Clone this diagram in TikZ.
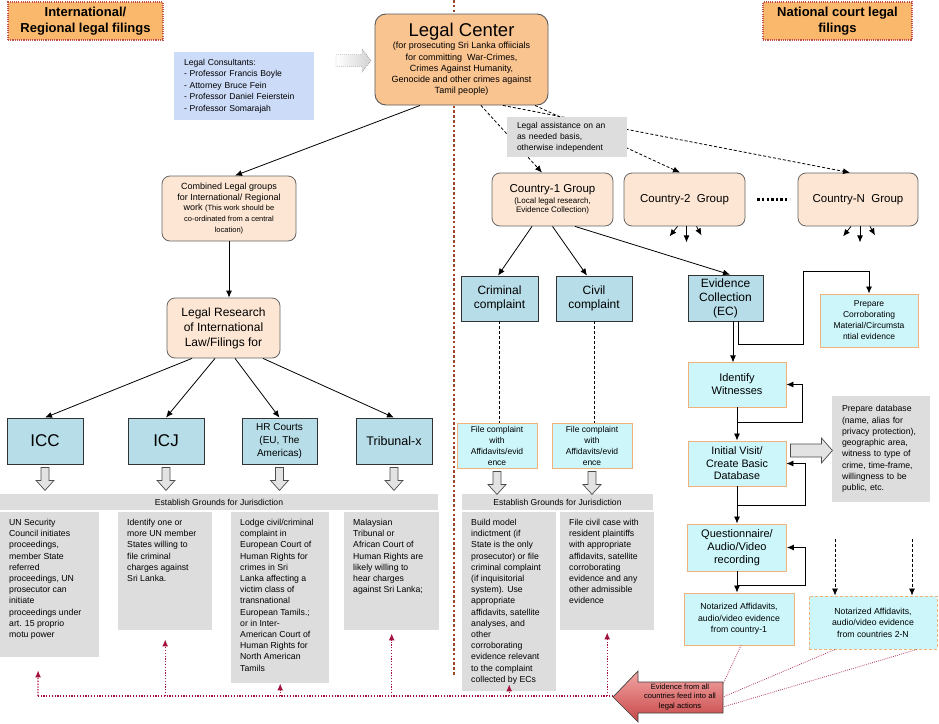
\documentclass[tikz,border=0pt]{standalone}
\usepackage{fontspec}
\setmainfont{Liberation Sans}
\usetikzlibrary{arrows.meta}

\definecolor{hdrorange}{HTML}{FAB86C}
\definecolor{hdrred}{HTML}{C0504D}
\definecolor{centerfill}{HTML}{FAC491}
\definecolor{peach}{HTML}{FDE6D3}
\definecolor{tealfill}{HTML}{B7DDE8}
\definecolor{cyanfill}{HTML}{CCF6FA}
\definecolor{orangeline}{HTML}{F0B27A}
\definecolor{grayfill}{HTML}{DDDDDD}
\definecolor{bluefill}{HTML}{CCDBF8}
\definecolor{dividerred}{HTML}{9E4526}
\definecolor{feedred}{HTML}{A3123C}
\definecolor{feedtop}{HTML}{F4A6A6}
\definecolor{feedbot}{HTML}{C64646}

\newcommand\fsz[2]{\fontsize{#1}{#2}\selectfont}
\newcommand\gtxt[3]{\parbox[c][#2pt][t]{#1pt}{\raggedright #3}}

\tikzset{
  sz/.style 2 args={minimum width=#1pt,minimum height=#2pt},
  header/.style={fill=hdrorange,draw=hdrred,line width=1.1pt,dash pattern=on 1.1pt off 1.1pt,
    minimum width=#1,minimum height=38pt,align=center,font=\bfseries\fsz{13}{16}},
  centerbox/.style={fill=centerfill,draw=black!65,line width=0.9pt,rounded corners=11pt,align=center,inner sep=1pt},
  groupbox/.style={fill=peach,draw=black!60,line width=0.8pt,rounded corners=8pt,align=center,inner sep=1pt},
  courtbox/.style={fill=tealfill,draw=black!80,line width=0.8pt,align=center,inner sep=1pt},
  stepbox/.style={fill=cyanfill,draw=orangeline,line width=0.9pt,align=center,inner sep=1pt},
  notebox/.style={fill=grayfill,align=left,inner xsep=10pt},
  bar/.style={fill=grayfill,inner sep=0pt,font=\fsz{8.6}{10}},
  grounds/.style={fill=grayfill,anchor=north west,inner xsep=9pt,inner ysep=7pt,font=\fsz{8.7}{11.2}},
  link/.style={->,line width=0.8pt},
  dashlink/.style={->,line width=0.8pt,dash pattern=on 3pt off 2pt},
  dashline/.style={line width=0.6pt,dash pattern=on 3pt off 2pt},
  feed/.style={feedred,line width=1.3pt,dash pattern=on 1.3pt off 1.5pt,>={Latex[length=7pt,width=6pt]}},
  feedthin/.style={feedred!85,line width=0.8pt,dash pattern=on 0.8pt off 1.2pt},
  ellip/.style={line width=2.4pt,dash pattern=on 2.4pt off 2.2pt,shorten <=12pt,shorten >=8pt},
  hollow/.style={fill=gray!22,draw=black!70,line width=0.7pt},
  hdown/.pic={\draw[hollow] (-4,0) -- (4,0) -- (4,13) -- (9,13) -- (0,23) -- (-9,13) -- (-4,13) -- cycle;},
  hright/.pic={\draw[hollow] (0,-6.5) -- (31,-6.5) -- (31,-12.5) -- (42,0) -- (31,12.5) -- (31,6.5) -- (0,6.5) -- cycle;}
}

\begin{document}
\begin{tikzpicture}[x=1pt,y=-1pt,>={Latex[length=7pt,width=6pt]}]
\useasboundingbox (0,0) rectangle (939,723);

% line between international and national halves
\draw[dividerred,line width=2.6pt,dash pattern=on 2.6pt off 2.2pt] (454,0) -- (454,675);

\node[header=155pt] (intl) at (85.5,21) {International/\\Regional legal filings};
\node[header=149pt] (natl) at (837.5,21) {National court legal\\filings};

\node[centerbox,sz={173}{91},font=\fsz{9}{11.25}] (lc) at (461.5,59.5)
  {{\fsz{18.5}{22}Legal Center}\\[1pt]
   (for prosecuting Sri Lanka offiicials\\for committing\ \ War-Crimes,\\
   Crimes Against Humanity,\\Genocide and other crimes against\\Tamil people)};

\node[notebox,fill=bluefill,sz={140}{68},text width=120pt,font=\fsz{8.6}{11.5}] (cons) at (244,86)
  {Legal Consultants:\\- Professor Francis Boyle\\- Attorney Bruce Fein\\- Professor Daniel Feierstein\\- Professor Somarajah};
\shadedraw[left color=white,right color=gray!35,draw=gray,dash pattern=on 1pt off 1pt]
  (336,54.5) -- (362,54.5) -- (362,49) -- (371,60.5) -- (362,72) -- (362,66.5) -- (336,66.5) -- cycle;

% international side
\node[groupbox,sz={134}{65},font=\fsz{9}{10.7}] (cg) at (229,208.5)
  {Combined Legal groups\\for International/ Regional\\work {\fsz{7.5}{9.5}(This work should be}\\
   {\fsz{7.5}{9.5}co-ordinated from a central}\\{\fsz{7.5}{9.5}location)}};
\node[groupbox,sz={113}{60},font=\fsz{12}{15}] (lr) at (223.5,328)
  {Legal Research\\of International\\Law/Filings for};

\node[courtbox,sz={76}{46},font=\fsz{17}{20}] (icc) at (45,441) {ICC};
\node[courtbox,sz={76}{46},font=\fsz{17}{20}] (icj) at (166,441) {ICJ};
\node[courtbox,sz={75}{46},font=\fsz{10}{13}] (hrc) at (279.5,441) {HR Courts\\(EU, The\\Americas)};
\node[courtbox,sz={76}{46},font=\fsz{12.5}{15}] (trb) at (394,441) {Tribunal-x};

\node[bar,sz={438}{16}] (gl) at (219,502) {Establish Grounds for Jurisdiction};
\node[grounds] (un) at (0,512) {\gtxt{81}{131}{UN Security\\Council initiates\\proceedings,\\member State\\referred\\proceedings, UN\\prosecutor can\\initiate\\proceedings under\\art. 15 proprio\\motu power}};
\node[grounds] (ij) at (118,512) {\gtxt{76}{104}{Identify one or\\more UN member\\States willing to\\file criminal\\charges against\\Sri Lanka.}};
\node[grounds] (hr) at (231,512) {\gtxt{80}{157}{Lodge civil/criminal\\complaint in\\European Court of\\Human Rights for\\crimes in Sri\\Lanka affecting a\\victim class of\\transnational\\European Tamils.;\\or in Inter-\\American Court of\\Human Rights for\\North American\\Tamils}};
\node[grounds] (tb) at (344,512) {\gtxt{77}{104}{Malaysian\\Tribunal or\\African Court of\\Human Rights are\\likely willing to\\hear charges\\against Sri Lanka;}};

% national side
\node[groupbox,sz={121}{53},font=\fsz{8}{9.5}] (c1) at (552.5,199.5)
  {{\fsz{11.5}{13}Country-1 Group}\\[1pt](Local legal research,\\Evidence Collection)};
\node[groupbox,sz={121}{53},font=\fsz{11.5}{13}] (c2) at (684.5,199.5) {Country-2\ \ Group};
\node[groupbox,sz={120}{53},font=\fsz{11.5}{13}] (cn) at (858,199.5) {Country-N\ \ Group};

\node[courtbox,sz={77}{45},font=\fsz{12}{14}] (cr) at (499.5,298.5) {Criminal\\complaint};
\node[courtbox,sz={76}{45},font=\fsz{12}{14}] (cv) at (594,298.5) {Civil\\complaint};
\node[courtbox,sz={75}{46},font=\fsz{12}{14}] (ec) at (725.5,298) {Evidence\\Collection\\(EC)};

\node[stepbox,sz={80}{45},font=\fsz{8.5}{11}] (fc1) at (497,445.5) {File complaint\\with\\Affidavits/evid\\ence};
\node[stepbox,sz={80}{45},font=\fsz{8.5}{11}] (fc2) at (592,445.5) {File complaint\\with\\Affidavits/evid\\ence};

\node[bar,sz={191}{16}] (gr) at (557.5,502) {Establish Grounds for Jurisdiction};
\node[grounds] (b5) at (462,512) {\gtxt{76}{165}{Build model\\indictment (if\\State is the only\\prosecutor) or file\\criminal complaint\\(if inquisitorial\\system). Use\\appropriate\\affidavits, satellite\\analyses, and\\other\\corroborating\\evidence relevant\\to the complaint\\collected by ECs}};
\node[grounds] (b6) at (560,512) {\gtxt{76}{104}{File civil case with\\resident plaintiffs\\with appropriate\\affidavits, satellite\\corroborating\\evidence and any\\other admissible\\evidence}};

\node[stepbox,sz={98}{53},font=\fsz{8.5}{11}] (pc) at (869,320.5) {Prepare\\Corroborating\\Material/Circumsta\\ntial evidence};
\node[stepbox,sz={98}{45},font=\fsz{11}{13}] (iw) at (737,384.5) {Identify\\Witnesses};
\node[stepbox,sz={98}{45},font=\fsz{10.8}{12.5}] (iv) at (737,463.5) {Initial Visit/\\Create Basic\\Database};
\node[stepbox,sz={99}{47},font=\fsz{11}{13}] (qa) at (737,547.5) {Questionnaire/\\Audio/Video\\recording};
\node[stepbox,sz={110}{52},font=\fsz{8.7}{11.5}] (n1) at (739,619) {Notarized Affidavits,\\audio/video evidence\\from country-1};
\node[stepbox,dash pattern=on 3pt off 2pt,sz={128}{53},font=\fsz{8.7}{11.5}] (n2) at (873,622.5) {Notarized Affidavits,\\audio/video evidence\\from countries 2-N};
\node[notebox,sz={98}{106},text width=78pt,font=\fsz{8.7}{11.3}] (pdb) at (881,449)
  {Prepare database\\(name, alias for\\privacy protection),\\geographic area,\\witness to type of\\crime, time-frame,\\willingness to be\\public, etc.};

% connectors
\draw[link] ([xshift=-41.5pt]lc.south) -- ([xshift=6pt]cg.north);
\draw[link] (cg.south) -- (cg.south |- lr.north);
\foreach \dx/\b in {-31.5/icc,-8.5/icj,11.5/hrc,39.5/trb}
  \draw[link] ([xshift=\dx pt]lr.south) -- (\b.north);

\draw[dashlink] ([xshift=19.5pt]lc.south) -- ([xshift=-10.5pt]c1.north);
\draw[dashlink] ([xshift=73.5pt]lc.south) -- ([xshift=-4.5pt]c2.north);
\draw[dashlink] ([xshift=41.5pt]lc.south) -- ([xshift=-8pt]cn.north);
\node[notebox,sz={120}{40},text width=100pt,font=\fsz{8.5}{11}] (lab) at (567,137)
  {Legal assistance on an\\as needed basis,\\otherwise independent};

\draw[ellip] (c2) -- (cn);
\foreach \g in {c2,cn}{
  \draw[link] ([xshift=-7pt]\g.south) -- ++(-8,10);
  \draw[link] ([xshift=2pt]\g.south) -- ++(0,16);
  \draw[link] ([xshift=12pt]\g.south) -- ++(5,9);
}

\draw[link] ([xshift=-20.5pt]c1.south) -- ([xshift=-1.5pt]cr.north);
\draw[link] (c1.south) -- ([xshift=-7pt]cv.north);
\draw[link] ([xshift=22.5pt]c1.south) -- ([xshift=4.5pt]ec.north);
\draw[dashline] (cr.south) -- (cr.south |- fc1.north);
\draw[dashline] (cv.south) -- (cv.south |- fc2.north);

\draw[link] ([xshift=7.5pt]ec.south) -- ++(0,41);
\draw[link] ([xshift=12.5pt]ec.south) |- ++(65,23) -- ++(0,-73) -| (pc.north);

\coordinate (j1) at ([yshift=-15pt]iw.south);
\coordinate (j2) at ([yshift=-19pt]iv.south);
\coordinate (j3) at ([yshift=-14pt]qa.south);
\draw[link] (iw) -- (iv);
\draw[link] (iv) -- (qa);
\draw[link] (qa.south) -- (qa.south |- n1.north);
\draw[link] (j1) -| ([xshift=16pt]iw.east) -- (iw.east);
\draw[link] (j2) -| ([xshift=19pt]iv.east) -- (iv.east);
\draw[link] (j3) -| ([xshift=18pt]qa.east) -- (qa.east);
\foreach \dx in {-38,39}
  \draw[dashlink] ([xshift=\dx pt,yshift=57pt]n2.north) -- ([xshift=\dx pt]n2.north);

\foreach \b in {icc,icj,hrc,trb,fc1,fc2}
  \pic at ([yshift=-3pt]\b.south) {hdown};
\pic at ([xshift=4pt,yshift=13pt]iv.east) {hright};

% evidence feeds back into all filings
\shadedraw[top color=feedtop,bottom color=feedbot,draw=black!75,line width=0.7pt]
  (613,697) -- (638,671) -- (638,682) -- (723,682) -- (723,713) -- (638,713) -- (638,722) -- cycle;
\node[font=\fsz{7.6}{9.5},align=center,inner sep=0pt] (feedtxt) at (680,697) {Evidence from all\\countries feed into all\\legal actions};
\coordinate (ftip) at (613,696);
\coordinate (fleft) at (38,696);
\coordinate (fin1) at (723,684);
\coordinate (fin2) at (723,697);
\coordinate (fin3) at (723,707);

\draw[feedthin] ([xshift=2pt]n1.south) -- (fin1);
\draw[feedthin] ([xshift=-38pt]n2.south) -- (fin2);
\draw[feedthin] ([xshift=44pt]n2.south) -- (fin3);

\draw[feed] (ftip) -- (fleft);
\draw[feed,->,shorten >=13pt] (fleft) -- ([xshift=-11.5pt]un.south);
\foreach \b/\s in {ij/9,hr/0,tb/3,b5/-7,b6/2}
  \draw[feed,->,shorten >=\s pt] (\b.south |- ftip) -- (\b.south);

\end{tikzpicture}
\end{document}
